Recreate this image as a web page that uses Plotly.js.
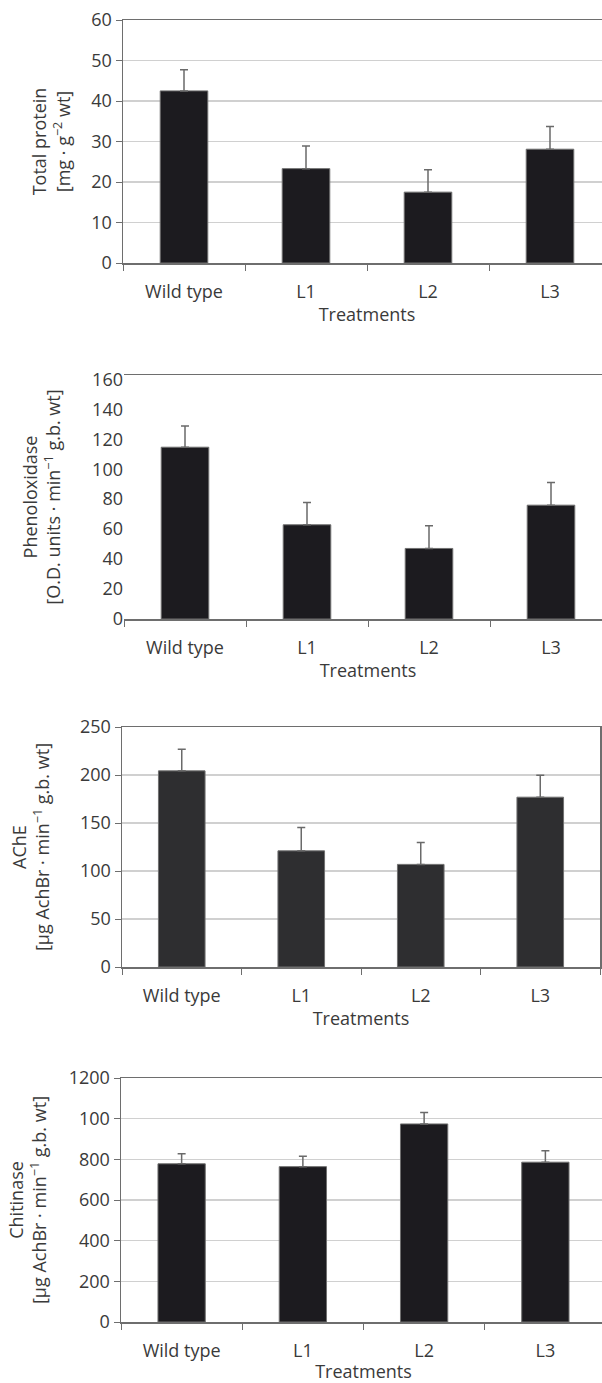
<!DOCTYPE html>
<html>
<head>
<meta charset="utf-8">
<script src="https://cdn.plot.ly/plotly-3.0.1.min.js"></script>
<style>
html,body{margin:0;padding:0;background:#fff;overflow:hidden;width:602px;height:1383px;}
#chart{position:absolute;left:0;top:0;}
</style>
</head>
<body>
<div id="chart"></div>
<script>
const treatments = ["Wild type", "L1", "L2", "L3"];

const proteinValues = [42.5, 23.3, 17.5, 28.1];
const proteinErrors = [5.2, 5.6, 5.5, 5.6];

const phenolValues = [114.7, 62.9, 47.1, 76.0];
const phenolErrors = [14.2, 14.8, 15.1, 15.1];
const phenolTickVals = [0, 20, 40, 60, 80, 100, 120, 140, 160];
const phenolTop = 162.9;

const acheValues = [204.3, 121.0, 106.9, 176.9];
const acheErrors = [22.5, 24.4, 22.9, 22.9];

const chitinValues = [778, 764, 974, 786];
const chitinErrors = [50, 51, 56, 56];
const chitinTickVals = [0, 200, 400, 600, 800, 1000, 1200];
const chitinTickText = ["0", "200", "400", "600", "800", "100", "1200"];

const W = 615, H = 1383;
const FONT = '"Open Sans", "Liberation Sans", sans-serif';
const TXT = '#3a3a3a';
const AX = '#6e6e6e';
const GRID = '#d0d0d0';

function bar(x, vals, errs, color, xa, ya) {
  return {
    type: 'bar', x: x, y: vals, xaxis: xa, yaxis: ya,
    width: 0.39,
    marker: {color: color, line: {color: '#707070', width: 1}},
    error_y: {type: 'data', symmetric: false, array: errs,
              arrayminus: errs.map(() => 0), color: '#6a6a6a',
              thickness: 1.5, width: 4},
    showlegend: false, hoverinfo: 'skip'
  };
}

const data = [
  bar(treatments, proteinValues, proteinErrors, '#1c1b1f', 'x', 'y'),
  bar(treatments, phenolValues, phenolErrors, '#1c1b1f', 'x2', 'y2'),
  bar(treatments, acheValues, acheErrors, '#2e2e30', 'x3', 'y3'),
  bar(treatments, chitinValues, chitinErrors, '#1c1b1f', 'x4', 'y4')
];

function px(a, b) { return [a / W, Math.min(b / W, 1)]; }
function py(top, bottom) { return [1 - bottom / H, 1 - top / H]; }

function xax(dom, anchor) {
  return {
    domain: dom, anchor: anchor, type: 'category',
    showline: true, linecolor: AX, linewidth: 1.5, mirror: true,
    ticks: 'outside', ticklen: 6, tickcolor: AX, tickwidth: 1, tickson: 'boundaries',
    showgrid: false, ticklabelstandoff: 12,
    tickfont: {family: FONT, size: 18, color: TXT},
    title: {text: 'Treatments', font: {family: FONT, size: 18, color: TXT}, standoff: 6},
    fixedrange: true
  };
}

function yax(dom, anchor, range, title, standoff, extra) {
  const o = {
    domain: dom, anchor: anchor, range: range,
    showline: true, linecolor: AX, linewidth: 1.5, mirror: true,
    ticks: 'outside', ticklen: 6, tickcolor: AX, tickwidth: 1,
    showgrid: true, gridcolor: GRID, gridwidth: 1.5, zeroline: false,
    tickfont: {family: FONT, size: 18, color: TXT},
    title: {text: title, font: {family: FONT, size: 18, color: TXT}, standoff: standoff},
    fixedrange: true
  };
  return Object.assign(o, extra || {});
}

const d1 = py(20, 263), d2 = py(375, 619), d3 = py(727, 967), d4 = py(1078, 1322);

const gridStep = phenolTop / 6;
const phenolGrid = [0, 1, 2, 3, 4, 5, 6].map(i => i * gridStep);

const layout = {
  width: W, height: H,
  margin: {l: 0, r: 0, t: 0, b: 0},
  paper_bgcolor: '#ffffff', plot_bgcolor: '#ffffff',
  xaxis: xax(px(123, 611), 'y'),
  xaxis2: xax(px(124, 612), 'y2'),
  xaxis3: xax(px(122, 600), 'y3'),
  xaxis4: xax(px(121, 606), 'y4'),
  yaxis: yax(d1, 'x', [0, 60], 'Total protein<br>[mg · g<sup>−2</sup> wt]', 16, {tickvals: [0,10,20,30,40,50,60]}),
  yaxis2: yax(d2, 'x2', [0, phenolTop], 'Phenoloxidase<br>[O.D. units · min<sup>−1</sup> g.b. wt]', 26,
              {tickvals: phenolTickVals, ticks: '', showgrid: false, showline: false}),
  yaxis5: {domain: d2, anchor: 'x2', overlaying: 'y2', side: 'left', range: [0, phenolTop],
           tickvals: phenolGrid, showticklabels: false,
           showline: true, linecolor: AX, linewidth: 1.5, mirror: true,
           ticks: 'outside', ticklen: 6, tickcolor: AX, tickwidth: 1,
           showgrid: true, gridcolor: GRID, gridwidth: 1.5, zeroline: false, fixedrange: true},
  yaxis3: yax(d3, 'x3', [0, 250], 'AChE<br>[µg AchBr · min<sup>−1</sup> g.b. wt]', 25, {tickvals: [0,50,100,150,200,250]}),
  yaxis4: yax(d4, 'x4', [0, 1200], 'Chitinase<br>[µg AchBr · min<sup>−1</sup> g.b. wt]', 17,
              {tickvals: chitinTickVals, ticktext: chitinTickText})
};

Plotly.newPlot('chart', data, layout, {displayModeBar: false, staticPlot: true});
</script>
</body>
</html>
